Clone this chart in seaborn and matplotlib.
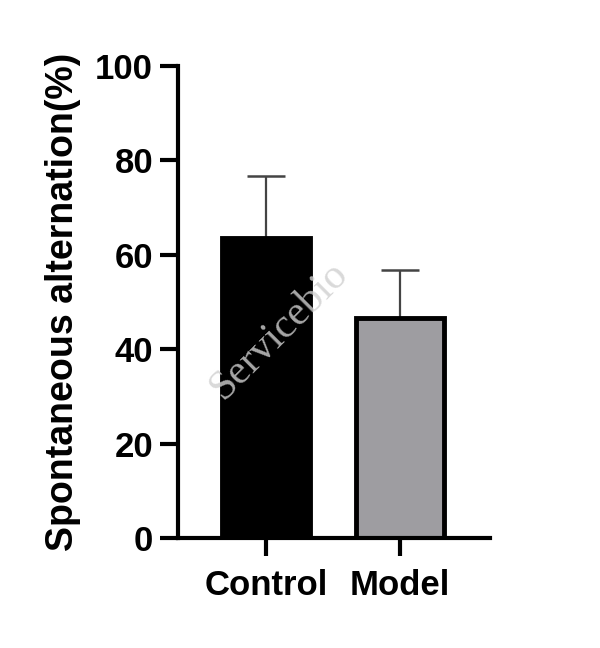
import seaborn as sns
import matplotlib.pyplot as plt
import pandas as pd

# Values
groups = ['Control', 'Model']
means = [63.6, 46.6]
sds = [13.0, 10.2]
bar_colors = ['#000000', '#9d9ca2']

df = pd.DataFrame({'group': groups, 'value': means})

sns.set_style('ticks')
plt.rcParams['font.family'] = ['Liberation Sans', 'DejaVu Sans']
plt.rcParams['text.color'] = 'black'
plt.rcParams['axes.labelcolor'] = 'black'
plt.rcParams['xtick.color'] = 'black'
plt.rcParams['ytick.color'] = 'black'

fig = plt.figure(figsize=(6, 6.48), dpi=100)
ax = fig.add_axes([0.2967, 0.1698, 0.52, 0.7284])

sns.barplot(data=df, x='group', y='value', hue='group', palette=bar_colors,
            errorbar=None, width=0.66, edgecolor='black', linewidth=3.5,
            legend=False, ax=ax, zorder=2)

# upper-only error bars
ax.errorbar(x=range(len(groups)), y=means, yerr=[[0] * len(sds), sds],
            fmt='none', ecolor='#444444', elinewidth=1.6, capsize=14,
            capthick=1.8, zorder=1)

ax.set_xlim(-0.657, 1.672)
ax.set_ylim(0, 100)
ax.set_yticks([0, 20, 40, 60, 80, 100])
ax.set_xlabel('')
ax.set_ylabel('Spontaneous alternation(%)', fontsize=27, fontweight='bold', labelpad=10)

for lbl in ax.get_xticklabels() + ax.get_yticklabels():
    lbl.set_fontweight('bold')
ax.tick_params(axis='both', labelsize=25, width=3, length=13, pad=5)
ax.tick_params(axis='x', pad=9)

sns.despine(ax=ax)
for side in ['left', 'bottom']:
    ax.spines[side].set_linewidth(3)
    ax.spines[side].set_color('black')

# watermark
fig.text(0.465, 0.49, 'Servicebio', rotation=45, fontsize=30, color='#d0d0d0',
         family='Liberation Serif', alpha=0.8, ha='center', va='center')

fig.savefig('out.png', dpi=100)
